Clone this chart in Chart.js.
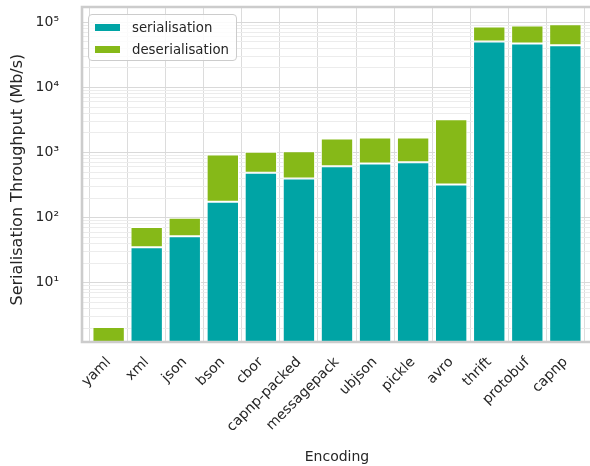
<!DOCTYPE html>
<html>
<head>
<meta charset="utf-8">
<script src="https://cdn.jsdelivr.net/npm/chart.js@4.4.1/dist/chart.umd.min.js"></script>
<style>
  html, body { margin: 0; padding: 0; background: #fff; overflow: hidden; }
  #wrap { position: relative; width: 592px; height: 466px; }
  #legend {
    position: absolute; left: 88px; top: 14px; width: 147px; height: 45px;
    border: 1.3px solid #cccccc; border-radius: 4px;
    background: rgba(255, 255, 255, 0.85);
    font: 13.3px 'DejaVu Sans'; color: #262626;
  }
  .item { position: absolute; left: 6px; height: 17px; display: flex; align-items: center; white-space: nowrap; }
  .sw { width: 25px; height: 7px; margin-right: 12px; }
</style>
</head>
<body>
<div id="wrap">
  <canvas id="chart" width="592" height="466"></canvas>
  <div id="legend"></div>
</div>
<script>
const encodings = ['yaml', 'xml', 'json', 'bson', 'cbor', 'capnp-packed', 'messagepack',
                   'ubjson', 'pickle', 'avro', 'thrift', 'protobuf', 'capnp'];
// throughput in Mb/s, deserialisation stacked on top of serialisation
const serialisation   = [0.5, 35, 52, 175, 490, 400, 615, 676, 710, 324, 50700, 47200, 44600];
const deserialisation = [1.6, 37, 48, 760, 535, 650, 1035, 1024, 990, 2916, 35300, 42100, 49000];
const decadeLabels = ['10⁰', '10¹', '10²', '10³', '10⁴', '10⁵'];

const teal = '#00a4a5';
const green = '#86b918';

Chart.defaults.font.family = "'DejaVu Sans'";
Chart.defaults.color = '#262626';

function isDecade(v) {
    const e = Math.round(Math.log10(v));
    return Math.abs(v - Math.pow(10, e)) < 1e-6 * v;
}

function points(values) {
    return values.map((v, i) => ({ x: i, y: v }));
}

function barSet(label, values, color) {
    return {
        label: label,
        data: points(values),
        backgroundColor: color,
        borderColor: '#ffffff',
        borderWidth: 1,
        borderSkipped: false,
        barPercentage: 0.85,
        categoryPercentage: 1,
        clip: 0
    };
}

// spines drawn over the bars, like matplotlib
const spines = {
    id: 'spines',
    afterDatasetsDraw(chart) {
        const { ctx, chartArea: a } = chart;
        ctx.save();
        ctx.strokeStyle = '#cccccc';
        ctx.lineWidth = 2.6;
        ctx.beginPath();
        ctx.moveTo(a.right + 10, a.top);
        ctx.lineTo(a.left, a.top);
        ctx.lineTo(a.left, a.bottom);
        ctx.lineTo(a.right + 10, a.bottom);
        ctx.stroke();
        ctx.restore();
    }
};

const chart = new Chart(document.getElementById('chart'), {
    type: 'bar',
    data: {
        datasets: [
            barSet('serialisation', serialisation, teal),
            barSet('deserialisation', deserialisation, green)
        ]
    },
    options: {
        responsive: false,
        animation: false,
        layout: { padding: 0 },
        plugins: { legend: { display: false }, tooltip: { enabled: false } },
        scales: {
            x: {
                type: 'linear',
                min: -0.7,
                max: 12.7,
                stacked: true,
                offset: false,
                afterBuildTicks: s => { s.ticks = encodings.map((_, i) => ({ value: i })); },
                afterFit: s => { s.height = 124; },
                ticks: {
                    autoSkip: false,
                    minRotation: 45,
                    maxRotation: 45,
                    padding: 0,
                    font: { size: 14 },
                    callback: v => encodings[v]
                },
                grid: { color: '#dcdcdc', lineWidth: 1, drawTicks: true, tickLength: 12, tickColor: 'rgba(0,0,0,0)' },
                border: { display: false },
                title: { display: true, text: 'Encoding', font: { size: 14 }, padding: { top: 0, bottom: 0 } }
            },
            y: {
                type: 'logarithmic',
                min: 1.23,
                max: 172000,
                stacked: true,
                afterBuildTicks: s => {
                    const t = [];
                    for (let e = 0; e <= 5; e++) {
                        for (let m = 1; m <= 9; m++) {
                            const v = m * Math.pow(10, e);
                            if (v >= s.min && v <= s.max) t.push({ value: v, major: m === 1 });
                        }
                    }
                    s.ticks = t;
                },
                afterFit: s => { s.width = 82; },
                ticks: {
                    autoSkip: false,
                    padding: 0,
                    font: { size: 14, lineHeight: 1.0 },
                    callback: v => isDecade(v) ? decadeLabels[Math.round(Math.log10(v))] : ''
                },
                grid: {
                    color: c => isDecade(c.tick.value) ? '#d9d9d9' : '#ececec',
                    lineWidth: 1,
                    drawTicks: true,
                    tickLength: 23,
                    tickColor: 'rgba(0,0,0,0)'
                },
                border: { display: false },
                title: {
                    display: true,
                    text: 'Serialisation Throughput (Mb/s)\u00a0\u00a0',
                    font: { size: 16 },
                    padding: { top: 8, bottom: 0 }
                }
            }
        }
    },
    plugins: [spines]
});

// legend box inside the plot, upper left
const legend = document.getElementById('legend');
chart.data.datasets.forEach((ds, i) => {
    const item = document.createElement('div');
    item.className = 'item';
    item.style.top = (4 + i * 21.5) + 'px';
    item.innerHTML = '<span class="sw" style="background:' + ds.backgroundColor + '"></span>' + ds.label;
    legend.appendChild(item);
});
</script>
</body>
</html>
